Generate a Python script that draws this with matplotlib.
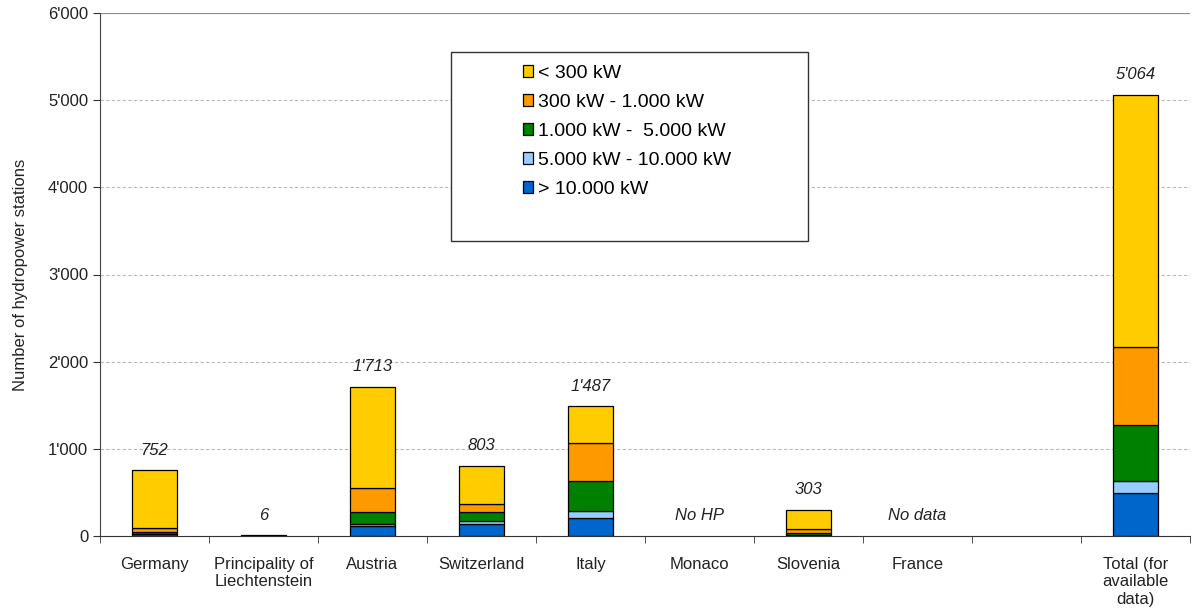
import numpy as np
import matplotlib
matplotlib.use("Agg")
import matplotlib.pyplot as plt
from matplotlib.patches import Rectangle

plt.rcParams['font.family'] = ['Liberation Sans', 'DejaVu Sans']

# stations per country and size class
countries = ["Germany", "Principality of\nLiechtenstein", "Austria", "Switzerland",
             "Italy", "Monaco", "Slovenia", "France", "", "Total (for\navailable\ndata)"]
size_classes = ["> 10.000 kW", "5.000 kW - 10.000 kW", "1.000 kW -  5.000 kW",
                "300 kW - 1.000 kW", "< 300 kW"]
colors = ["#0066CC", "#99CCFF", "#008000", "#FF9900", "#FFCC00"]

# order: Germany, Liechtenstein, Austria, Switzerland, Italy, Slovenia
gt_10000 = [20, 0, 120, 135, 212, 10]
mw_5_10 = [5, 0, 20, 35, 70, 5]
mw_1_5 = [25, 2, 140, 100, 351, 20]
kw_300_1000 = [45, 1, 265, 100, 436, 50]
lt_300 = [657, 3, 1168, 433, 418, 218]
data_slots = [0, 1, 2, 3, 4, 6]
total_slot = 9

notes = {5: "No HP", 7: "No data"}

series = [gt_10000, mw_5_10, mw_1_5, kw_300_1000, lt_300]


def fmt(v):
    return f"{int(round(v)):,}".replace(",", "'")


fig = plt.figure(figsize=(11.93, 6.12), dpi=100)
ax = fig.add_axes([100 / 1193, 1 - 536 / 612, 1090 / 1193, 523 / 612])

width = 0.41
bottoms = np.zeros(len(data_slots) + 1)
xs = data_slots + [total_slot]
for vals, col, lab in zip(series, colors, size_classes):
    v = np.array(vals + [sum(vals)], dtype=float)
    ax.bar(xs, v, width, bottom=bottoms, color=col, edgecolor="black",
           linewidth=0.9, label=lab, zorder=3)
    bottoms += v

for x, tot in zip(xs, bottoms):
    ax.text(x, tot + 230, fmt(tot), ha="center", va="center",
            fontsize=12, style="italic", color="#222222")
for x, note in notes.items():
    ax.text(x, 230, note, ha="center", va="center",
            fontsize=12, style="italic", color="#222222")

ax.set_xlim(-0.5, 9.5)
ax.set_ylim(0, 6000)
ax.set_yticks(range(0, 6001, 1000))
ax.set_yticklabels([fmt(v) for v in range(0, 6001, 1000)])
ax.set_xticks(range(10))
ax.set_xticklabels(countries)
ax.set_xticks(np.arange(-0.5, 10, 1), minor=True)
ax.tick_params(axis="x", which="major", length=0, pad=15, labelsize=12,
               labelcolor="#222222")
ax.tick_params(axis="x", which="minor", length=5, direction="out", color="#333333")
ax.tick_params(axis="y", length=5, direction="out", labelsize=12, color="#333333",
               labelcolor="#222222")
ax.set_ylabel("Number of hydropower stations", fontsize=12, color="#222222",
              labelpad=14)

for y in range(1000, 6000, 1000):
    ax.axhline(y, color="#b8b8b8", linestyle=(0, (3, 2)), linewidth=0.8, zorder=0)
ax.axhline(6000, color="#909090", linewidth=0.9, zorder=0)

for s in ["top", "right"]:
    ax.spines[s].set_visible(False)
ax.spines["left"].set_color("#444444")
ax.spines["bottom"].set_color("#333333")
ax.spines["bottom"].set_zorder(4)

# legend box, larger than its entries
fig.patches.append(Rectangle((451 / 1193, 1 - 241 / 612), 357 / 1193, 189 / 612,
                             transform=fig.transFigure, facecolor="white",
                             edgecolor="#333333", linewidth=1, zorder=4))
handles, labels = ax.get_legend_handles_labels()
leg = fig.legend(handles[::-1], labels[::-1], loc="upper left",
                 bbox_to_anchor=(513 / 1193, 1 - 55 / 612), frameon=False,
                 fontsize=14, handlelength=0.55, handleheight=0.55,
                 handletextpad=0.25, labelspacing=0.62, borderpad=0)
leg.set_zorder(5)

fig.savefig("out.png", dpi=100)
